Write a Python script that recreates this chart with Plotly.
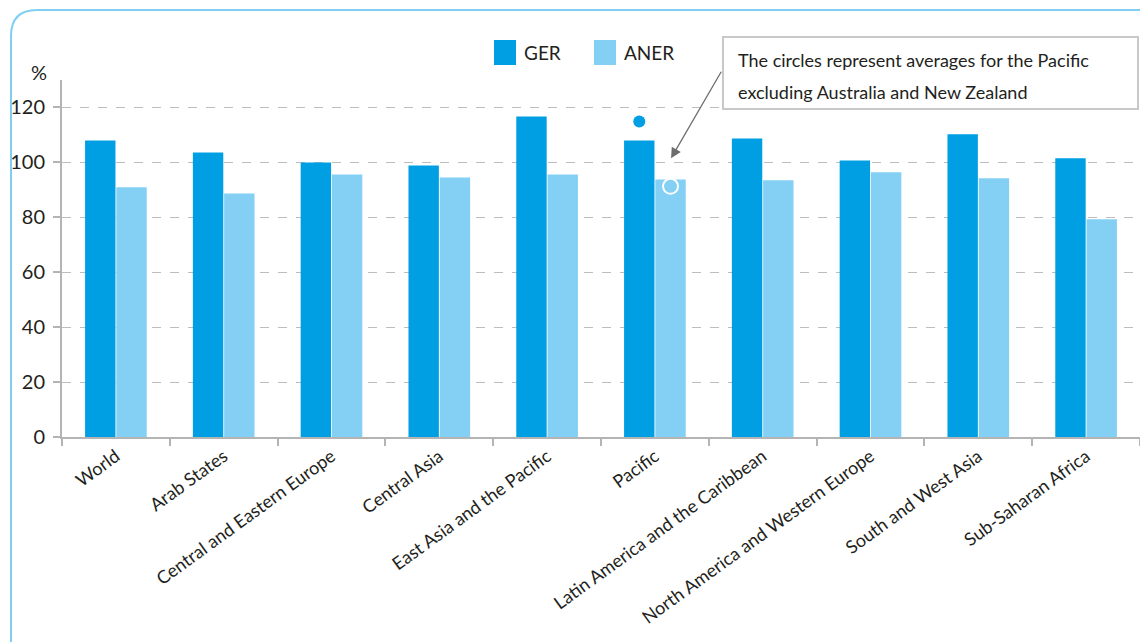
import plotly.graph_objects as go

categories = ["World", "Arab States", "Central and Eastern Europe", "Central Asia",
              "East Asia and the Pacific", "Pacific", "Latin America and the Caribbean",
              "North America and Western Europe", "South and West Asia", "Sub-Saharan Africa"]
ger = [108.0, 103.6, 100.0, 98.9, 116.7, 108.0, 108.7, 100.7, 110.2, 101.5]
aner = [90.9, 88.7, 95.6, 94.5, 95.6, 93.8, 93.5, 96.4, 94.2, 79.3]
pacific_excl_ger = [114.9]
pacific_excl_aner = [91.3]
pacific_index = [5]
y_ticks = [0, 20, 40, 60, 80, 100, 120]
series_names = ["GER", "ANER"]
note_lines = ["The circles represent averages for the Pacific",
              "excluding Australia and New Zealand"]

GER_C = "#009FE3"
ANER_C = "#84D0F5"
FONT = "Lato, Liberation Sans, sans-serif"
TXT = "#231F20"

idx = list(range(len(categories)))
BW = 0.282

fig = go.Figure()
fig.add_trace(go.Bar(x=idx, y=ger, name=series_names[0], marker=dict(color=GER_C, line=dict(width=0)),
                     width=BW, offset=-BW - 0.004, showlegend=False))
fig.add_trace(go.Bar(x=idx, y=aner, name=series_names[1], marker=dict(color=ANER_C, line=dict(width=0)),
                     width=BW, offset=0.004, showlegend=False))
fig.add_trace(go.Scatter(x=[i - BW / 2 - 0.004 for i in pacific_index], y=pacific_excl_ger,
                         mode="markers", showlegend=False,
                         marker=dict(color=GER_C, size=12, line=dict(width=0))))
fig.add_trace(go.Scatter(x=[i + BW / 2 + 0.004 for i in pacific_index], y=pacific_excl_aner,
                         mode="markers", showlegend=False,
                         marker=dict(color=ANER_C, size=15, line=dict(width=2, color="white"))))

L, T = 62, 80
W, H = 1140, 642
B = 642 - 437
pw = W - L
ph = H - T - B

def px(x):
    return (x - L) / pw

def py(y):
    return (H - B - y) / ph

# rounded frame
r = 26
frame = (f"M {px(11)} {py(700)} L {px(11)} {py(10 + r)} "
         f"Q {px(11)} {py(10)} {px(11 + r)} {py(10)} L {px(1200)} {py(10)}")

shapes = [
    dict(type="path", xref="paper", yref="paper", path=frame,
         line=dict(color="#7FCFF3", width=2)),
    dict(type="rect", xref="paper", yref="paper", x0=px(723), x1=px(1138), y0=py(109), y1=py(37),
         line=dict(color="#C8C8C8", width=2), fillcolor="white", layer="above"),
]
annotations = [
    dict(text="%", xref="paper", yref="paper", x=px(39), y=py(72), xanchor="center",
         yanchor="middle", showarrow=False, font=dict(size=20, family=FONT, color=TXT)),
    dict(text="", x=5 + 0.15, y=101.5, xref="x", yref="y", showarrow=True,
         arrowhead=2, arrowsize=1.6, arrowwidth=1.3, arrowcolor="#6E6E6E",
         ax=51, ay=-88, standoff=0),
]
for line, yc in zip(note_lines, [60, 92]):
    annotations.append(dict(text=line, xref="paper", yref="paper", x=px(736), y=py(yc),
                            xanchor="left", yanchor="middle", showarrow=False,
                            font=dict(size=18, family=FONT, color=TXT)))
# manual legend
for name, col, x0 in zip(series_names, [GER_C, ANER_C], [494, 594]):
    shapes.append(dict(type="rect", xref="paper", yref="paper",
                       x0=px(x0), x1=px(x0 + 22), y0=py(65), y1=py(40),
                       fillcolor=col, line=dict(width=0)))
    annotations.append(dict(text=name, xref="paper", yref="paper", x=px(x0 + 28), y=py(52.5),
                            xanchor="left", yanchor="middle", showarrow=False,
                            font=dict(size=19, family=FONT, color=TXT)))

fig.update_layout(
    width=W, height=H,
    margin=dict(l=L, r=0, t=T, b=B),
    paper_bgcolor="white", plot_bgcolor="white",
    font=dict(family=FONT, size=18, color=TXT),
    barmode="overlay",
    showlegend=False,
    xaxis=dict(range=[-0.5, 9.5], tickmode="array", tickvals=idx, ticktext=categories,
               tickangle=-36, ticks="", showgrid=False, zeroline=False,
               showline=True, linecolor="#B4B4B4", linewidth=2, automargin=False,
               tickfont=dict(size=18, family=FONT, color=TXT),
               minor=dict(ticks="outside", tick0=-0.5, dtick=1, ticklen=7,
                          tickcolor="#B4B4B4", tickwidth=2, showgrid=False)),
    yaxis=dict(range=[0, 130], tickmode="array", tickvals=y_ticks, ticks="outside",
               ticklen=7, tickcolor="#B4B4B4", tickwidth=2, automargin=False,
               showline=True, linecolor="#B4B4B4", linewidth=2,
               showgrid=True, gridcolor="#BDBDBD", griddash="dash", gridwidth=1,
               zeroline=False, tickfont=dict(size=20, family=FONT, color=TXT),
               ticklabelstandoff=4),
    shapes=shapes,
    annotations=annotations,
)

fig.write_html("out.html", config={"displayModeBar": False},
               post_script="document.body.style.margin='0';document.body.style.padding='0';")
